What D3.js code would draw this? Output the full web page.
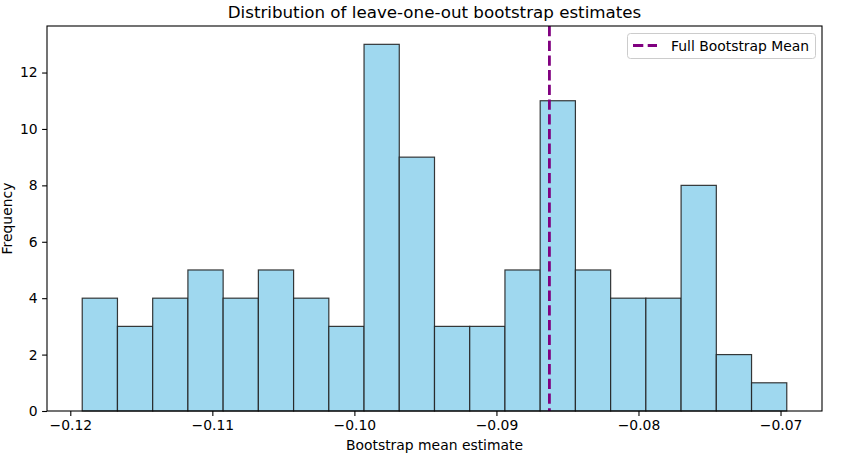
<!DOCTYPE html>
<html>
<head>
<meta charset="utf-8">
<script src="https://cdn.jsdelivr.net/npm/d3@7"></script>
<style>
  body { margin: 0; background: #fff; }
  svg { font-family: "DejaVu Sans", sans-serif; }
</style>
</head>
<body>
<svg id="chart"></svg>
<script>
// histogram bins (20 equal-width bins) and their counts
const binStart = -0.11916
const binEnd = -0.06956
const counts = [4, 3, 4, 5, 4, 5, 4, 3, 13, 9, 3, 3, 5, 11, 5, 4, 4, 8, 2, 1]
const fullMean = -0.08627
const xTicks = [-0.12, -0.11, -0.10, -0.09, -0.08, -0.07]
const yTicks = [0, 2, 4, 6, 8, 10, 12]

const w = 846
const h = 461
const padL = 47, padR = 822, padT = 26, padB = 411

const binW = (binEnd - binStart) / counts.length
const bins = counts.map((c, i) => ({ x0: binStart + i * binW, x1: binStart + (i + 1) * binW, n: c }))

const span = binEnd - binStart
const xScale = d3.scaleLinear()
                 .domain([binStart - span * 0.05, binEnd + span * 0.05])
                 .range([padL, padR])
const yMax = d3.max(counts) * 1.05
const yScale = d3.scaleLinear()
                 .domain([0, yMax])
                 .range([padB, padT])

const svg = d3.select('#chart')
  .attr('width', w)
  .attr('height', h)

svg.append('g')
  .selectAll('rect')
  .data(bins)
  .enter()
  .append('rect')
    .attr('x', d => xScale(d.x0))
    .attr('y', d => yScale(d.n))
    .attr('width', d => xScale(d.x1) - xScale(d.x0))
    .attr('height', d => yScale(0) - yScale(d.n))
    .attr('fill', '#9fd8ef')
    .attr('stroke', '#222')
    .attr('stroke-opacity', 0.9)
    .attr('stroke-width', 1.2)

// mean line
svg.append('line')
  .attr('x1', xScale(fullMean))
  .attr('x2', xScale(fullMean))
  .attr('y1', padT)
  .attr('y2', padB)
  .attr('stroke', 'purple')
  .attr('stroke-width', 2.8)
  .attr('stroke-dasharray', '10.3,4.4')

const xAxis = d3.axisBottom(xScale)
                .tickValues(xTicks)
                .tickSize(4.9)
                .tickPadding(4.5)
                .tickFormat(d => d3.format('.2f')(d).replace('-', '\u2212'))
svg.append('g')
  .attr('transform', 'translate(0,' + padB + ')')
  .call(xAxis)

const yAxis = d3.axisLeft(yScale)
                .tickValues(yTicks)
                .tickSize(4.9)
                .tickPadding(4.5)
                .tickFormat(d3.format('d'))
svg.append('g')
  .attr('transform', 'translate(' + padL + ',0)')
  .call(yAxis)

svg.selectAll('.tick text')
  .attr('font-family', '"DejaVu Sans", sans-serif')
  .attr('font-size', 13.9)
  .attr('fill', '#000')
svg.selectAll('.tick line').attr('stroke', '#000').attr('stroke-width', 1.1)
svg.selectAll('.domain').remove()

// frame
svg.append('rect')
  .attr('x', padL)
  .attr('y', padT)
  .attr('width', padR - padL)
  .attr('height', padB - padT)
  .attr('fill', 'none')
  .attr('stroke', '#000')
  .attr('stroke-width', 1.1)

svg.append('text')
  .attr('x', (padL + padR) / 2)
  .attr('y', 18)
  .attr('text-anchor', 'middle')
  .attr('font-size', 16.7)
  .text('Distribution of leave-one-out bootstrap estimates')

svg.append('text')
  .attr('x', (padL + padR) / 2)
  .attr('y', 450)
  .attr('text-anchor', 'middle')
  .attr('font-size', 13.9)
  .text('Bootstrap mean estimate')

svg.append('text')
  .attr('transform', 'translate(11.5,' + (padT + padB) / 2 + ') rotate(-90)')
  .attr('text-anchor', 'middle')
  .attr('font-size', 13.9)
  .text('Frequency')

// legend
const lg = svg.append('g')
lg.append('rect')
  .attr('x', 627.5)
  .attr('y', 33.5)
  .attr('width', 188)
  .attr('height', 25)
  .attr('rx', 3)
  .attr('fill', '#fff')
  .attr('fill-opacity', 0.8)
  .attr('stroke', '#ccc')
lg.append('line')
  .attr('x1', 633)
  .attr('x2', 657)
  .attr('y1', 45.5)
  .attr('y2', 45.5)
  .attr('stroke', 'purple')
  .attr('stroke-width', 2.8)
  .attr('stroke-dasharray', '10.3,4.4')
lg.append('text')
  .attr('x', 671)
  .attr('y', 50.5)
  .attr('font-size', 13.9)
  .text('Full Bootstrap Mean')
</script>
</body>
</html>
